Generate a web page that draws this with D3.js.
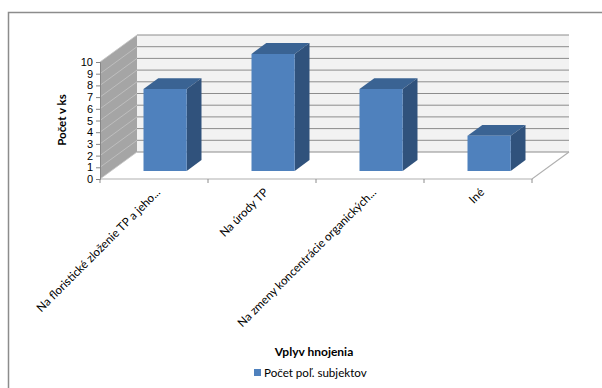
<!DOCTYPE html>
<html>
<head>
<meta charset="utf-8">
<script src="https://cdn.jsdelivr.net/npm/d3@7"></script>
<style>
  body { margin: 0; background: #fff; }
  svg text { font-family: Lato, "Open Sans", sans-serif; fill: #000; }
</style>
</head>
<body>
<div id="chart"></div>
<script>
const categories = [
  'Na floristické zloženie TP a jeho...',
  'Na úrody TP',
  'Na zmeny koncentrácie organických...',
  'Iné'
]
const values = [7, 10, 7, 3]
const yTicks = [0, 1, 2, 3, 4, 5, 6, 7, 8, 9, 10]
const seriesName = 'Počet poľ. subjektov'
const xTitle = 'Vplyv hnojenia'
const yTitle = 'Počet v ks'

const W = 602, H = 388
const svg = d3.select('#chart').append('svg')
  .attr('width', W).attr('height', H)

// depth of the 3d box
const depthX = 37, depthY = 27

const x = d3.scaleBand()
  .domain(categories)
  .range([100, 532])
  .paddingInner(0.6)
  .paddingOuter(0.3)

const y = d3.scaleLinear().domain([0, 10]).range([179, 62])

// point on the plot at front x, value v, depth fraction f (0 front, 1 back)
const P = (px, v, f) => [px + depthX * f, y(v) - depthY * f]
const pts = arr => arr.map(p => p.join(',')).join(' ')

// outer frame (only top and left visible)
svg.append('path')
  .attr('d', `M8.5,${H} V12.5 H${W}`)
  .attr('fill', 'none').attr('stroke', '#8c8c8c').attr('stroke-width', 1.5)

const x0 = x.range()[0], x1 = x.range()[1]

// back wall
svg.append('polygon')
  .attr('points', pts([P(x0, 0, 1), P(x0, 10, 1), P(x1, 10, 1), P(x1, 0, 1)]))
  .attr('fill', '#f2f2f2')

// left wall
svg.append('polygon')
  .attr('points', pts([P(x0, 0, 0), P(x0, 10, 0), P(x0, 10, 1), P(x0, 0, 1)]))
  .attr('fill', '#a5a5a5')

// gridlines
svg.append('g').selectAll('line.back')
  .data(yTicks).enter().append('line')
  .attr('x1', d => P(x0, d, 1)[0]).attr('y1', d => P(x0, d, 1)[1])
  .attr('x2', d => P(x1, d, 1)[0]).attr('y2', d => P(x1, d, 1)[1])
  .attr('stroke', '#8c8c8c').attr('stroke-width', 1)

svg.append('g').selectAll('line.side')
  .data(yTicks).enter().append('line')
  .attr('x1', d => P(x0, d, 0)[0]).attr('y1', d => P(x0, d, 0)[1])
  .attr('x2', d => P(x0, d, 1)[0]).attr('y2', d => P(x0, d, 1)[1])
  .attr('stroke', '#c4c4c4').attr('stroke-width', 0.8)

// floor edges
svg.append('path')
  .attr('d', 'M' + P(x0, 0, 0) + 'L' + P(x1, 0, 0) + 'L' + P(x1, 0, 1))
  .attr('fill', 'none').attr('stroke', '#b0b0b0').attr('stroke-width', 1.2)

// category ticks
const bounds = categories.map(c => x(c) - x.step() * x.paddingInner() / 2)
bounds.push(x1)
svg.append('g').selectAll('line')
  .data(bounds).enter().append('line')
  .attr('x1', d => d).attr('x2', d => d)
  .attr('y1', y(0)).attr('y2', y(0) + 4)
  .attr('stroke', '#8c8c8c')

// y axis
const yAxis = svg.append('g')
  .attr('transform', `translate(${x0},0)`)
  .call(d3.axisLeft(y).tickValues(yTicks).tickSize(4).tickPadding(3))
yAxis.selectAll('path, line').attr('stroke', '#868686')
yAxis.selectAll('text')
  .style('font-family', '"Liberation Sans", Arial, sans-serif')
  .style('font-size', '11px').attr('fill', '#000')

// bars
const fFront = 0.3, fBack = 0.7
const bw = x.bandwidth()
const bars = svg.append('g').selectAll('g')
  .data(categories.map((c, i) => ({ c, v: values[i] })))
  .enter().append('g')

bars.append('polygon')
  .attr('points', d => {
    const l = x(d.c)
    return pts([P(l, d.v, fFront), P(l, d.v, fBack), P(l + bw, d.v, fBack), P(l + bw, d.v, fFront)])
  })
  .attr('fill', '#3a6393')

bars.append('polygon')
  .attr('points', d => {
    const r = x(d.c) + bw
    return pts([P(r, 0, fFront), P(r, d.v, fFront), P(r, d.v, fBack), P(r, 0, fBack)])
  })
  .attr('fill', '#30527c')

bars.append('polygon')
  .attr('points', d => {
    const l = x(d.c)
    return pts([P(l, 0, fFront), P(l, d.v, fFront), P(l + bw, d.v, fFront), P(l + bw, 0, fFront)])
  })
  .attr('fill', '#4f81bd')

// category labels
svg.append('g').selectAll('text')
  .data(categories).enter().append('text')
  .attr('transform', d => `translate(${x(d) + bw / 2 + 7},${y(0) + 14}) rotate(-45)`)
  .attr('text-anchor', 'end')
  .style('font-size', '11.6px')
  .text(d => d)

// axis titles
svg.append('text')
  .attr('transform', 'translate(66,120) rotate(-90)')
  .attr('text-anchor', 'middle')
  .style('font-size', '11.5px').style('font-weight', 'bold')
  .text(yTitle)

svg.append('text')
  .attr('x', 314).attr('y', 356)
  .attr('text-anchor', 'middle')
  .style('font-size', '12px').style('font-weight', 'bold')
  .text(xTitle)

// legend
const legend = svg.append('g').attr('transform', 'translate(254,369)')
legend.append('rect')
  .attr('width', 7).attr('height', 7)
  .attr('fill', '#4f81bd')
legend.append('text')
  .attr('x', 10).attr('y', 7.5)
  .style('font-size', '11.6px')
  .text(seriesName)
</script>
</body>
</html>
